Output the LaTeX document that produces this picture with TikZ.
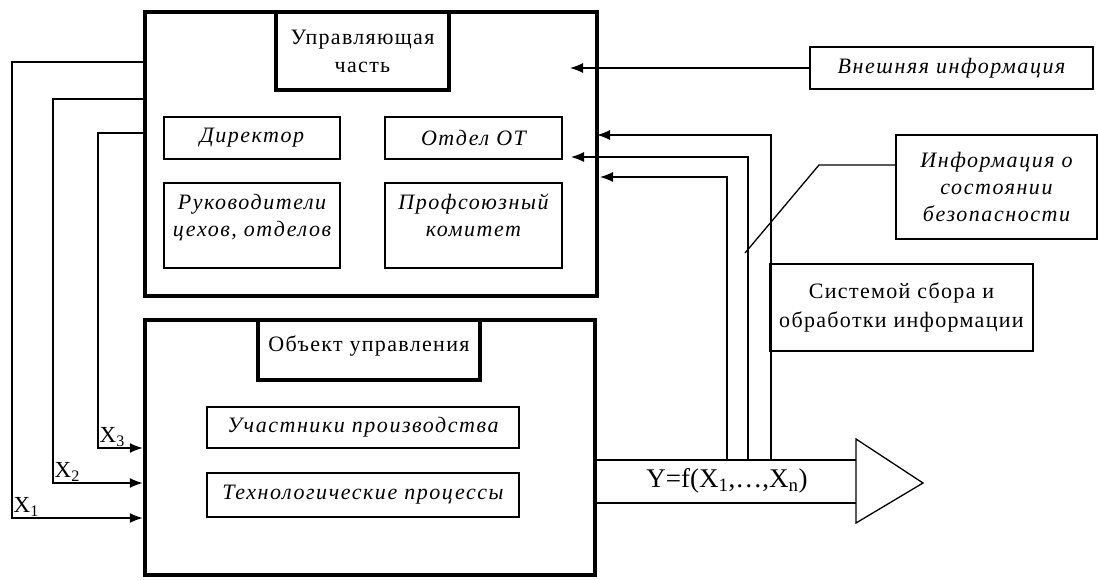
\documentclass[tikz,border=0pt]{standalone}
\usepackage{fontspec}
\setmainfont{Liberation Serif}
\newfontfamily\wideserif[LetterSpace=6]{Liberation Serif}
\newfontfamily\wideital[LetterSpace=7]{Liberation Serif Italic}
\usetikzlibrary{arrows.meta}

\begin{document}
\begin{tikzpicture}[x=1pt, y=-1pt,
  outer/.style={draw, line width=4.5pt, inner sep=0pt},
  titlebox/.style={draw, line width=3.5pt, inner sep=0pt, align=center, font=\wideserif\fontsize{22}{28}\selectfont},
  itbox/.style={draw, line width=1.3pt, inner sep=0pt, align=center, font=\wideital\fontsize{22}{27}\selectfont},
  txtbox/.style={draw, line width=1.3pt, inner sep=0pt, align=center, font=\wideserif\fontsize{22}{29}\selectfont},
  toptext/.style={anchor=north, yshift=-8pt, align=center, font=\wideital\fontsize{22}{27}\selectfont},
  wire/.style={line width=1.3pt},
  feed/.style={line width=1.3pt, -{Latex[length=13pt,width=10pt]}}]
\useasboundingbox (0,0) rectangle (1098,580);

% управляющая часть
\node[outer, minimum width=452pt, minimum height=284pt] (ctrl) at (371,154) {};
\node[titlebox, minimum width=173pt, minimum height=78pt] (ctrltitle) at (362.5,51) {Управляющая\\часть};
\node[itbox, minimum width=176pt, minimum height=42pt] (dir) at (252,138) {Директор};
\node[itbox, minimum width=177pt, minimum height=42pt] (ot) at (473.5,138) {Отдел ОТ};
\node[itbox, minimum width=176pt, minimum height=85pt,
  label={[toptext]north:{Руководители\\цехов, отделов}}] (heads) at (252,225.5) {};
\node[itbox, minimum width=177pt, minimum height=85pt,
  label={[toptext]north:{Профсоюзный\\комитет}}] (union) at (473.5,225.5) {};

% объект управления
\node[outer, minimum width=450pt, minimum height=255pt] (obj) at (370,447.5) {};
\node[titlebox, minimum width=222pt, minimum height=60pt, text depth=12pt] (objtitle) at (369,350) {Объект управления};
\node[itbox, minimum width=312pt, minimum height=41pt] (part) at (363,427.5) {Участники производства};
\node[itbox, minimum width=312pt, minimum height=44pt] (tech) at (363,495) {Технологические процессы};

% информация справа
\node[itbox, minimum width=283pt, minimum height=42pt] (ext) at (951.5,68) {Внешняя информация};
\node[itbox, minimum width=201pt, minimum height=104pt] (safety) at (996.5,187) {Информация о\\состоянии\\безопасности};
\node[txtbox, minimum width=263pt, minimum height=87pt] (collect) at (901.5,307.5) {Системой сбора и\\обработки информации};

% выход Y
\draw[wire] (obj.east |- 0,460) -- (856,460) (obj.east |- 0,503) -- (856,503);
\draw[wire] (856,439) -- (923,483) -- (856,523) -- cycle;
\node[font=\fontsize{27}{30}\selectfont] (yout) at (727,481) {Y=f(X\textsubscript{1},…,X\textsubscript{n})};

% обратная связь
\coordinate (tip0) at (570,68);
\coordinate (tip1) at (597,135);
\coordinate (tip2) at (571,157);
\coordinate (tip3) at (600,177);
\draw[feed] (ext.west) -- (tip0);
\draw[feed] (771,460) |- (tip1);
\draw[feed] (748,460) |- (tip2);
\draw[feed] (727,460) |- (tip3);
\coordinate (lead) at (745,253);
\draw[wire] ([yshift=22pt]safety.west) -- (819,165) -- (lead);

\foreach \x/\ya/\yb/\n in {12/62/518/1, 53/99/483/2, 98/133/448/3}{
  \draw[feed] (ctrl.west |- 0,\ya) -- (\x,\ya) -- (\x,\yb)
    node[anchor=south west, inner sep=1pt, font=\fontsize{23}{24}\selectfont] (x\n) {X\textsubscript{\n}}
    -- (obj.west |- 0,\yb);
}

\end{tikzpicture}
\end{document}
